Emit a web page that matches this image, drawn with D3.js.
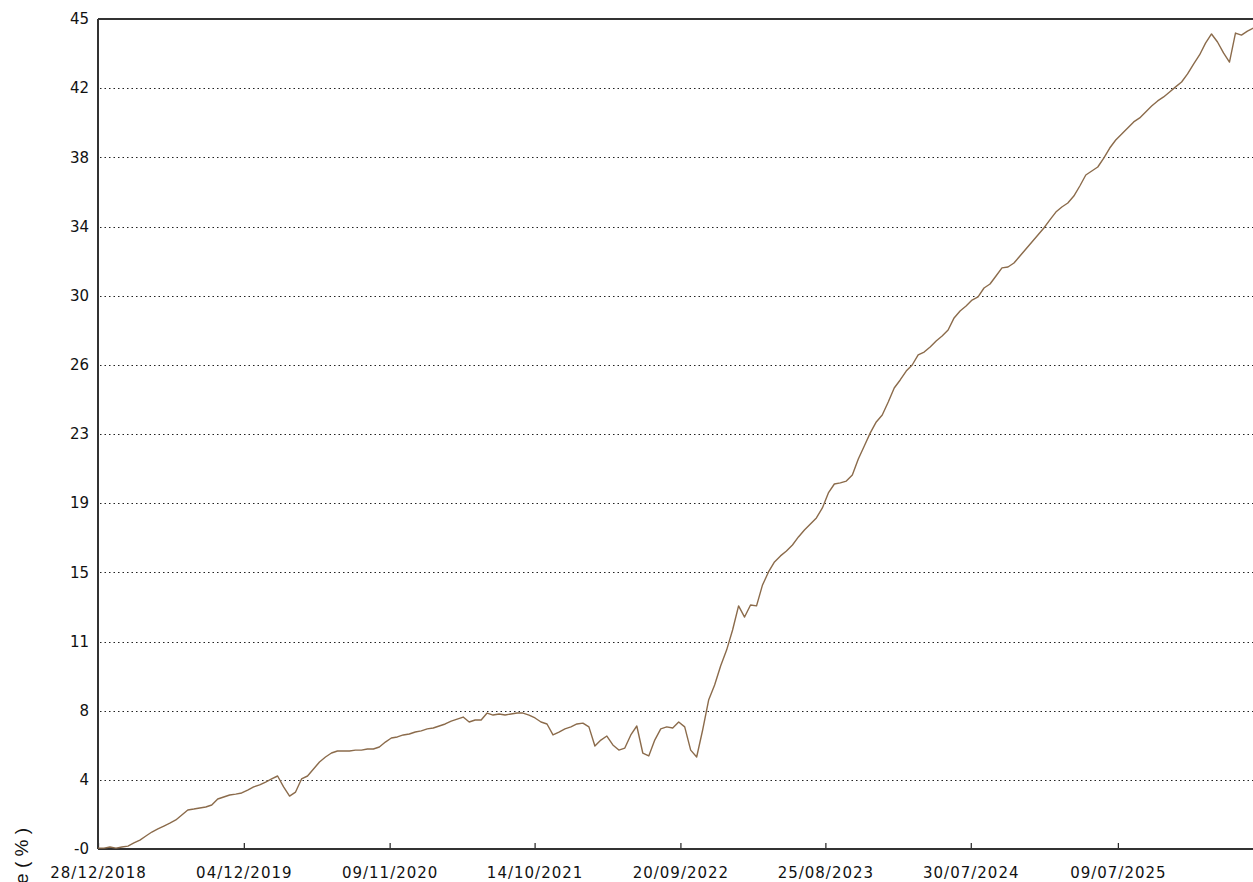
<!DOCTYPE html>
<html>
<head>
<meta charset="utf-8">
<script src="https://cdn.jsdelivr.net/npm/d3@7"></script>
<style>
  html, body { margin: 0; padding: 0; background: #ffffff; }
  svg { display: block; }
</style>
</head>
<body>
<svg id="chart" width="1253" height="882"></svg>
<script>
// ---- data ----
const startDate = "2018-12-28";
const endDate = "2026-05-21";
const stepDays = 14; // one reading every two weeks
const values = [
  0.00, 0.00, 0.06, 0.00, 0.06, 0.11, 0.28, 0.44, 0.66, 0.88,
  1.05, 1.21, 1.37, 1.54, 1.81, 2.09, 2.14, 2.20, 2.25, 2.36,
  2.69, 2.80, 2.91, 2.96, 3.02, 3.18, 3.35, 3.46, 3.62, 3.79,
  3.95, 3.35, 2.85, 3.07, 3.79, 3.95, 4.33, 4.72, 4.99, 5.21,
  5.32, 5.32, 5.32, 5.37, 5.37, 5.43, 5.43, 5.54, 5.81, 6.03,
  6.09, 6.20, 6.25, 6.36, 6.42, 6.53, 6.58, 6.69, 6.80, 6.96,
  7.07, 7.18, 6.91, 7.02, 7.02, 7.40, 7.29, 7.35, 7.29, 7.35,
  7.40, 7.40, 7.29, 7.13, 6.91, 6.80, 6.20, 6.36, 6.53, 6.64,
  6.80, 6.85, 6.64, 5.59, 5.92, 6.14, 5.65, 5.37, 5.48, 6.20,
  6.69, 5.21, 5.05, 5.92, 6.53, 6.64, 6.58, 6.91, 6.64, 5.37,
  4.99, 6.47, 8.11, 8.94, 9.98, 10.85, 11.95, 13.27, 12.66, 13.32,
  13.27, 14.42, 15.13, 15.68, 16.01, 16.28, 16.61, 17.05, 17.43, 17.76,
  18.09, 18.64, 19.46, 19.95, 20.01, 20.11, 20.44, 21.32, 22.03, 22.75,
  23.35, 23.73, 24.44, 25.21, 25.65, 26.14, 26.47, 27.02, 27.18, 27.46,
  27.79, 28.06, 28.39, 29.05, 29.43, 29.70, 30.03, 30.20, 30.69, 30.91,
  31.35, 31.79, 31.84, 32.06, 32.44, 32.83, 33.21, 33.59, 33.98, 34.42,
  34.85, 35.13, 35.35, 35.73, 36.28, 36.88, 37.10, 37.32, 37.81, 38.36,
  38.80, 39.13, 39.46, 39.79, 40.01, 40.33, 40.66, 40.94, 41.16, 41.43,
  41.71, 41.98, 42.42, 42.96, 43.46, 44.11, 44.61, 44.17, 43.57, 43.07,
  44.66, 44.55, 44.77, 44.94
];
const yMin = -0.05;
const yMax = 45.43;
const yTickLabels = ["-0", "4", "8", "11", "15", "19", "23", "26", "30", "34", "38", "42", "45"];
const xTickLabels = ["28/12/2018", "04/12/2019", "09/11/2020", "14/10/2021",
                     "20/09/2022", "25/08/2023", "30/07/2024", "09/07/2025"];
const yAxisTitle = "Performance ( % )";

// ---- drawing ----
(function () {
const parseIso = d3.timeParse("%Y-%m-%d");
const parseFr = d3.timeParse("%d/%m/%Y");
const t0 = parseIso(startDate);
const series = values.map((v, i) => ({ date: d3.timeDay.offset(t0, i * stepDays), value: v }));

const svg = d3.select("#chart");
const mLeft = 98, mRight = 1253, mTop = 19, mBottom = 849;

const x = d3.scaleTime().domain([t0, parseIso(endDate)]).range([mLeft, mRight]);
const y = d3.scaleLinear().domain([yMin, yMax]).range([mBottom, mTop]);

const nY = yTickLabels.length - 1;
const yTicks = d3.range(nY + 1).map(i => yMin + i * (yMax - yMin) / nY);
const xTicks = xTickLabels.map(s => parseFr(s));

const font = "'DejaVu Sans', Verdana, sans-serif";

// gridlines
svg.append("g")
  .selectAll("line")
  .data(yTicks.slice(1, -1))
  .join("line")
  .attr("x1", mLeft + 2).attr("x2", mRight)
  .attr("y1", d => Math.round(y(d)) + 0.5).attr("y2", d => Math.round(y(d)) + 0.5)
  .attr("stroke", "#222")
  .attr("stroke-width", 1)
  .attr("stroke-dasharray", "1.5,3");

// y axis (labels only, no tick marks)
const yAxis = d3.axisLeft(y).tickValues(yTicks).tickSize(0).tickPadding(9)
  .tickFormat((d, i) => yTickLabels[i]);
const gy = svg.append("g").attr("transform", `translate(${mLeft},0)`).call(yAxis);
gy.select(".domain").remove();
gy.selectAll("text").attr("font-family", font).attr("font-size", 15).attr("fill", "#111");

// x axis with inward ticks
const xAxis = d3.axisBottom(x).tickValues(xTicks).tickSize(-6).tickPadding(18)
  .tickFormat((d, i) => xTickLabels[i]);
const gx = svg.append("g").attr("transform", `translate(0,${mBottom})`).call(xAxis);
gx.select(".domain").remove();
gx.selectAll(".tick line").attr("stroke", "#222").attr("stroke-width", 1.2);
gx.selectAll("text").attr("font-family", font).attr("font-size", 15).attr("fill", "#111")
  .attr("letter-spacing", "1px");

// frame lines
svg.append("line").attr("x1", mLeft).attr("x2", mLeft).attr("y1", mTop).attr("y2", mBottom)
  .attr("stroke", "#333").attr("stroke-width", 2);
svg.append("line").attr("x1", mLeft).attr("x2", mRight).attr("y1", mTop).attr("y2", mTop)
  .attr("stroke", "#333").attr("stroke-width", 2);
svg.append("line").attr("x1", mLeft).attr("x2", mRight).attr("y1", mBottom).attr("y2", mBottom)
  .attr("stroke", "#333").attr("stroke-width", 2);

// series line
const line = d3.line().x(d => x(d.date)).y(d => y(d.value));
svg.append("path")
  .datum(series)
  .attr("fill", "none")
  .attr("stroke", "#8b6b4b")
  .attr("stroke-width", 1.4)
  .attr("stroke-linejoin", "round")
  .attr("d", line);

// y axis title (rotated, partially off-page like the reference)
svg.append("text")
  .attr("transform", `translate(28,828) rotate(-90)`)
  .attr("text-anchor", "end")
  .attr("font-family", "'Liberation Sans', Arial, sans-serif")
  .attr("font-size", 19)
  .attr("fill", "#111")
  .text(yAxisTitle);
})();
</script>
</body>
</html>
